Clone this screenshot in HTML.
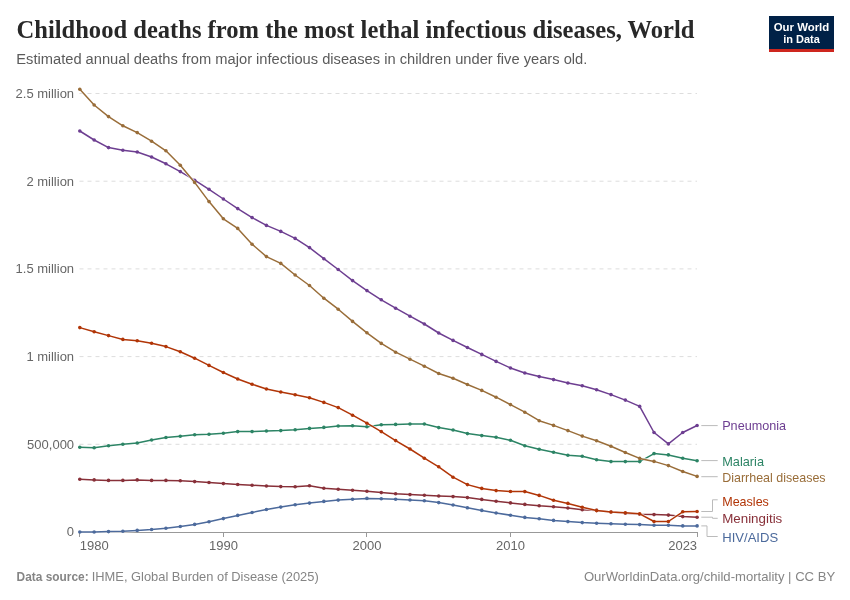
<!DOCTYPE html><html><head><meta charset="utf-8"><style>html,body{margin:0;padding:0;background:#fff;width:850px;height:600px;overflow:hidden}svg{display:block;will-change:transform}text{font-family:"Liberation Sans",sans-serif}</style></head><body>
<svg width="850" height="600" viewBox="0 0 850 600">
<rect width="850" height="600" fill="#fff"/>
<text x="16.5" y="38.4" style="font-family:'Liberation Serif',serif" font-weight="bold" font-size="25.5" fill="#282828" textLength="678" lengthAdjust="spacingAndGlyphs">Childhood deaths from the most lethal infectious diseases, World</text>
<text x="16.3" y="64" font-size="15.5" fill="#5b5b5b" textLength="571" lengthAdjust="spacingAndGlyphs">Estimated annual deaths from major infectious diseases in children under five years old.</text>
<rect x="769" y="16" width="65" height="33" fill="#002147"/><rect x="769" y="49" width="65" height="3" fill="#ce261e"/>
<text x="801.5" y="30.7" text-anchor="middle" font-weight="bold" font-size="11.4" fill="#fff">Our World</text>
<text x="801.5" y="42.6" text-anchor="middle" font-weight="bold" font-size="11" fill="#fff">in Data</text>
<text x="74.1" y="536.4" text-anchor="end" font-size="13" fill="#666">0</text>
<line x1="79.5" y1="444.3" x2="697" y2="444.3" stroke="#dddddd" stroke-width="1" stroke-dasharray="4,4"/>
<text x="74.1" y="448.7" text-anchor="end" font-size="13" fill="#666">500,000</text>
<line x1="79.5" y1="356.6" x2="697" y2="356.6" stroke="#dddddd" stroke-width="1" stroke-dasharray="4,4"/>
<text x="74.1" y="361.0" text-anchor="end" font-size="13" fill="#666">1 million</text>
<line x1="79.5" y1="268.9" x2="697" y2="268.9" stroke="#dddddd" stroke-width="1" stroke-dasharray="4,4"/>
<text x="74.1" y="273.3" text-anchor="end" font-size="13" fill="#666">1.5 million</text>
<line x1="79.5" y1="181.2" x2="697" y2="181.2" stroke="#dddddd" stroke-width="1" stroke-dasharray="4,4"/>
<text x="74.1" y="185.6" text-anchor="end" font-size="13" fill="#666">2 million</text>
<line x1="79.5" y1="93.5" x2="697" y2="93.5" stroke="#dddddd" stroke-width="1" stroke-dasharray="4,4"/>
<text x="74.1" y="97.9" text-anchor="end" font-size="13" fill="#666">2.5 million</text>
<line x1="79.8" y1="532.5" x2="697.1" y2="532.5" stroke="#999" stroke-width="1"/>
<line x1="79.5" y1="532" x2="79.5" y2="537" stroke="#999" stroke-width="1"/>
<text x="79.8" y="550.4" text-anchor="start" font-size="13" fill="#666">1980</text>
<line x1="223.5" y1="532" x2="223.5" y2="537" stroke="#999" stroke-width="1"/>
<text x="223.4" y="550.4" text-anchor="middle" font-size="13" fill="#666">1990</text>
<line x1="366.5" y1="532" x2="366.5" y2="537" stroke="#999" stroke-width="1"/>
<text x="366.9" y="550.4" text-anchor="middle" font-size="13" fill="#666">2000</text>
<line x1="510.5" y1="532" x2="510.5" y2="537" stroke="#999" stroke-width="1"/>
<text x="510.5" y="550.4" text-anchor="middle" font-size="13" fill="#666">2010</text>
<line x1="697.5" y1="532" x2="697.5" y2="537" stroke="#999" stroke-width="1"/>
<text x="697.1" y="550.4" text-anchor="end" font-size="13" fill="#666">2023</text>
<polyline points="79.80,532.00 94.16,532.00 108.51,531.60 122.87,531.20 137.22,530.40 151.58,529.50 165.93,528.20 180.29,526.50 194.65,524.40 209.00,521.80 223.36,518.60 237.71,515.40 252.07,512.50 266.43,509.50 280.78,507.10 295.14,504.80 309.49,503.10 323.85,501.40 338.20,500.10 352.56,499.20 366.92,498.40 381.27,498.80 395.63,499.20 409.98,500.00 424.34,500.80 438.70,502.60 453.05,505.00 467.41,507.80 481.76,510.40 496.12,513.00 510.47,515.20 524.83,517.40 539.19,518.80 553.54,520.40 567.90,521.60 582.25,522.60 596.61,523.20 610.97,523.80 625.32,524.20 639.68,524.60 654.03,525.20 668.39,525.30 682.74,525.90 697.10,525.90" fill="none" stroke="#fff" stroke-opacity="0.7" stroke-width="3" stroke-linejoin="round"/>
<polyline points="79.80,532.00 94.16,532.00 108.51,531.60 122.87,531.20 137.22,530.40 151.58,529.50 165.93,528.20 180.29,526.50 194.65,524.40 209.00,521.80 223.36,518.60 237.71,515.40 252.07,512.50 266.43,509.50 280.78,507.10 295.14,504.80 309.49,503.10 323.85,501.40 338.20,500.10 352.56,499.20 366.92,498.40 381.27,498.80 395.63,499.20 409.98,500.00 424.34,500.80 438.70,502.60 453.05,505.00 467.41,507.80 481.76,510.40 496.12,513.00 510.47,515.20 524.83,517.40 539.19,518.80 553.54,520.40 567.90,521.60 582.25,522.60 596.61,523.20 610.97,523.80 625.32,524.20 639.68,524.60 654.03,525.20 668.39,525.30 682.74,525.90 697.10,525.90" fill="none" stroke="#4c6a9c" stroke-width="1.5" stroke-linejoin="round"/>
<circle cx="79.80" cy="532.00" r="1.8" fill="#4c6a9c"/>
<circle cx="94.16" cy="532.00" r="1.8" fill="#4c6a9c"/>
<circle cx="108.51" cy="531.60" r="1.8" fill="#4c6a9c"/>
<circle cx="122.87" cy="531.20" r="1.8" fill="#4c6a9c"/>
<circle cx="137.22" cy="530.40" r="1.8" fill="#4c6a9c"/>
<circle cx="151.58" cy="529.50" r="1.8" fill="#4c6a9c"/>
<circle cx="165.93" cy="528.20" r="1.8" fill="#4c6a9c"/>
<circle cx="180.29" cy="526.50" r="1.8" fill="#4c6a9c"/>
<circle cx="194.65" cy="524.40" r="1.8" fill="#4c6a9c"/>
<circle cx="209.00" cy="521.80" r="1.8" fill="#4c6a9c"/>
<circle cx="223.36" cy="518.60" r="1.8" fill="#4c6a9c"/>
<circle cx="237.71" cy="515.40" r="1.8" fill="#4c6a9c"/>
<circle cx="252.07" cy="512.50" r="1.8" fill="#4c6a9c"/>
<circle cx="266.43" cy="509.50" r="1.8" fill="#4c6a9c"/>
<circle cx="280.78" cy="507.10" r="1.8" fill="#4c6a9c"/>
<circle cx="295.14" cy="504.80" r="1.8" fill="#4c6a9c"/>
<circle cx="309.49" cy="503.10" r="1.8" fill="#4c6a9c"/>
<circle cx="323.85" cy="501.40" r="1.8" fill="#4c6a9c"/>
<circle cx="338.20" cy="500.10" r="1.8" fill="#4c6a9c"/>
<circle cx="352.56" cy="499.20" r="1.8" fill="#4c6a9c"/>
<circle cx="366.92" cy="498.40" r="1.8" fill="#4c6a9c"/>
<circle cx="381.27" cy="498.80" r="1.8" fill="#4c6a9c"/>
<circle cx="395.63" cy="499.20" r="1.8" fill="#4c6a9c"/>
<circle cx="409.98" cy="500.00" r="1.8" fill="#4c6a9c"/>
<circle cx="424.34" cy="500.80" r="1.8" fill="#4c6a9c"/>
<circle cx="438.70" cy="502.60" r="1.8" fill="#4c6a9c"/>
<circle cx="453.05" cy="505.00" r="1.8" fill="#4c6a9c"/>
<circle cx="467.41" cy="507.80" r="1.8" fill="#4c6a9c"/>
<circle cx="481.76" cy="510.40" r="1.8" fill="#4c6a9c"/>
<circle cx="496.12" cy="513.00" r="1.8" fill="#4c6a9c"/>
<circle cx="510.47" cy="515.20" r="1.8" fill="#4c6a9c"/>
<circle cx="524.83" cy="517.40" r="1.8" fill="#4c6a9c"/>
<circle cx="539.19" cy="518.80" r="1.8" fill="#4c6a9c"/>
<circle cx="553.54" cy="520.40" r="1.8" fill="#4c6a9c"/>
<circle cx="567.90" cy="521.60" r="1.8" fill="#4c6a9c"/>
<circle cx="582.25" cy="522.60" r="1.8" fill="#4c6a9c"/>
<circle cx="596.61" cy="523.20" r="1.8" fill="#4c6a9c"/>
<circle cx="610.97" cy="523.80" r="1.8" fill="#4c6a9c"/>
<circle cx="625.32" cy="524.20" r="1.8" fill="#4c6a9c"/>
<circle cx="639.68" cy="524.60" r="1.8" fill="#4c6a9c"/>
<circle cx="654.03" cy="525.20" r="1.8" fill="#4c6a9c"/>
<circle cx="668.39" cy="525.30" r="1.8" fill="#4c6a9c"/>
<circle cx="682.74" cy="525.90" r="1.8" fill="#4c6a9c"/>
<circle cx="697.10" cy="525.90" r="1.8" fill="#4c6a9c"/>
<polyline points="79.80,479.30 94.16,479.90 108.51,480.40 122.87,480.40 137.22,479.90 151.58,480.40 165.93,480.40 180.29,480.80 194.65,481.60 209.00,482.50 223.36,483.60 237.71,484.50 252.07,485.20 266.43,486.00 280.78,486.60 295.14,486.80 309.49,485.80 323.85,488.30 338.20,489.20 352.56,490.30 366.92,491.30 381.27,492.60 395.63,493.80 409.98,494.60 424.34,495.20 438.70,496.00 453.05,496.60 467.41,497.60 481.76,499.40 496.12,501.20 510.47,502.90 524.83,504.40 539.19,505.80 553.54,506.80 567.90,508.00 582.25,509.80 596.61,510.40 610.97,512.00 625.32,513.20 639.68,514.20 654.03,514.60 668.39,515.10 682.74,516.60 697.10,517.20" fill="none" stroke="#fff" stroke-opacity="0.7" stroke-width="3" stroke-linejoin="round"/>
<polyline points="79.80,479.30 94.16,479.90 108.51,480.40 122.87,480.40 137.22,479.90 151.58,480.40 165.93,480.40 180.29,480.80 194.65,481.60 209.00,482.50 223.36,483.60 237.71,484.50 252.07,485.20 266.43,486.00 280.78,486.60 295.14,486.80 309.49,485.80 323.85,488.30 338.20,489.20 352.56,490.30 366.92,491.30 381.27,492.60 395.63,493.80 409.98,494.60 424.34,495.20 438.70,496.00 453.05,496.60 467.41,497.60 481.76,499.40 496.12,501.20 510.47,502.90 524.83,504.40 539.19,505.80 553.54,506.80 567.90,508.00 582.25,509.80 596.61,510.40 610.97,512.00 625.32,513.20 639.68,514.20 654.03,514.60 668.39,515.10 682.74,516.60 697.10,517.20" fill="none" stroke="#883039" stroke-width="1.5" stroke-linejoin="round"/>
<circle cx="79.80" cy="479.30" r="1.8" fill="#883039"/>
<circle cx="94.16" cy="479.90" r="1.8" fill="#883039"/>
<circle cx="108.51" cy="480.40" r="1.8" fill="#883039"/>
<circle cx="122.87" cy="480.40" r="1.8" fill="#883039"/>
<circle cx="137.22" cy="479.90" r="1.8" fill="#883039"/>
<circle cx="151.58" cy="480.40" r="1.8" fill="#883039"/>
<circle cx="165.93" cy="480.40" r="1.8" fill="#883039"/>
<circle cx="180.29" cy="480.80" r="1.8" fill="#883039"/>
<circle cx="194.65" cy="481.60" r="1.8" fill="#883039"/>
<circle cx="209.00" cy="482.50" r="1.8" fill="#883039"/>
<circle cx="223.36" cy="483.60" r="1.8" fill="#883039"/>
<circle cx="237.71" cy="484.50" r="1.8" fill="#883039"/>
<circle cx="252.07" cy="485.20" r="1.8" fill="#883039"/>
<circle cx="266.43" cy="486.00" r="1.8" fill="#883039"/>
<circle cx="280.78" cy="486.60" r="1.8" fill="#883039"/>
<circle cx="295.14" cy="486.80" r="1.8" fill="#883039"/>
<circle cx="309.49" cy="485.80" r="1.8" fill="#883039"/>
<circle cx="323.85" cy="488.30" r="1.8" fill="#883039"/>
<circle cx="338.20" cy="489.20" r="1.8" fill="#883039"/>
<circle cx="352.56" cy="490.30" r="1.8" fill="#883039"/>
<circle cx="366.92" cy="491.30" r="1.8" fill="#883039"/>
<circle cx="381.27" cy="492.60" r="1.8" fill="#883039"/>
<circle cx="395.63" cy="493.80" r="1.8" fill="#883039"/>
<circle cx="409.98" cy="494.60" r="1.8" fill="#883039"/>
<circle cx="424.34" cy="495.20" r="1.8" fill="#883039"/>
<circle cx="438.70" cy="496.00" r="1.8" fill="#883039"/>
<circle cx="453.05" cy="496.60" r="1.8" fill="#883039"/>
<circle cx="467.41" cy="497.60" r="1.8" fill="#883039"/>
<circle cx="481.76" cy="499.40" r="1.8" fill="#883039"/>
<circle cx="496.12" cy="501.20" r="1.8" fill="#883039"/>
<circle cx="510.47" cy="502.90" r="1.8" fill="#883039"/>
<circle cx="524.83" cy="504.40" r="1.8" fill="#883039"/>
<circle cx="539.19" cy="505.80" r="1.8" fill="#883039"/>
<circle cx="553.54" cy="506.80" r="1.8" fill="#883039"/>
<circle cx="567.90" cy="508.00" r="1.8" fill="#883039"/>
<circle cx="582.25" cy="509.80" r="1.8" fill="#883039"/>
<circle cx="596.61" cy="510.40" r="1.8" fill="#883039"/>
<circle cx="610.97" cy="512.00" r="1.8" fill="#883039"/>
<circle cx="625.32" cy="513.20" r="1.8" fill="#883039"/>
<circle cx="639.68" cy="514.20" r="1.8" fill="#883039"/>
<circle cx="654.03" cy="514.60" r="1.8" fill="#883039"/>
<circle cx="668.39" cy="515.10" r="1.8" fill="#883039"/>
<circle cx="682.74" cy="516.60" r="1.8" fill="#883039"/>
<circle cx="697.10" cy="517.20" r="1.8" fill="#883039"/>
<polyline points="79.80,447.30 94.16,447.70 108.51,445.80 122.87,444.30 137.22,443.00 151.58,440.00 165.93,437.50 180.29,436.20 194.65,434.70 209.00,434.30 223.36,433.20 237.71,431.60 252.07,431.60 266.43,431.00 280.78,430.60 295.14,429.80 309.49,428.40 323.85,427.40 338.20,426.00 352.56,425.80 366.92,426.70 381.27,424.80 395.63,424.40 409.98,424.00 424.34,424.00 438.70,427.60 453.05,430.00 467.41,433.60 481.76,435.60 496.12,437.30 510.47,440.30 524.83,445.80 539.19,449.20 553.54,452.20 567.90,455.20 582.25,456.20 596.61,459.70 610.97,461.60 625.32,461.60 639.68,461.60 654.03,453.60 668.39,454.90 682.74,458.20 697.10,460.70" fill="none" stroke="#fff" stroke-opacity="0.7" stroke-width="3" stroke-linejoin="round"/>
<polyline points="79.80,447.30 94.16,447.70 108.51,445.80 122.87,444.30 137.22,443.00 151.58,440.00 165.93,437.50 180.29,436.20 194.65,434.70 209.00,434.30 223.36,433.20 237.71,431.60 252.07,431.60 266.43,431.00 280.78,430.60 295.14,429.80 309.49,428.40 323.85,427.40 338.20,426.00 352.56,425.80 366.92,426.70 381.27,424.80 395.63,424.40 409.98,424.00 424.34,424.00 438.70,427.60 453.05,430.00 467.41,433.60 481.76,435.60 496.12,437.30 510.47,440.30 524.83,445.80 539.19,449.20 553.54,452.20 567.90,455.20 582.25,456.20 596.61,459.70 610.97,461.60 625.32,461.60 639.68,461.60 654.03,453.60 668.39,454.90 682.74,458.20 697.10,460.70" fill="none" stroke="#2c8465" stroke-width="1.5" stroke-linejoin="round"/>
<circle cx="79.80" cy="447.30" r="1.8" fill="#2c8465"/>
<circle cx="94.16" cy="447.70" r="1.8" fill="#2c8465"/>
<circle cx="108.51" cy="445.80" r="1.8" fill="#2c8465"/>
<circle cx="122.87" cy="444.30" r="1.8" fill="#2c8465"/>
<circle cx="137.22" cy="443.00" r="1.8" fill="#2c8465"/>
<circle cx="151.58" cy="440.00" r="1.8" fill="#2c8465"/>
<circle cx="165.93" cy="437.50" r="1.8" fill="#2c8465"/>
<circle cx="180.29" cy="436.20" r="1.8" fill="#2c8465"/>
<circle cx="194.65" cy="434.70" r="1.8" fill="#2c8465"/>
<circle cx="209.00" cy="434.30" r="1.8" fill="#2c8465"/>
<circle cx="223.36" cy="433.20" r="1.8" fill="#2c8465"/>
<circle cx="237.71" cy="431.60" r="1.8" fill="#2c8465"/>
<circle cx="252.07" cy="431.60" r="1.8" fill="#2c8465"/>
<circle cx="266.43" cy="431.00" r="1.8" fill="#2c8465"/>
<circle cx="280.78" cy="430.60" r="1.8" fill="#2c8465"/>
<circle cx="295.14" cy="429.80" r="1.8" fill="#2c8465"/>
<circle cx="309.49" cy="428.40" r="1.8" fill="#2c8465"/>
<circle cx="323.85" cy="427.40" r="1.8" fill="#2c8465"/>
<circle cx="338.20" cy="426.00" r="1.8" fill="#2c8465"/>
<circle cx="352.56" cy="425.80" r="1.8" fill="#2c8465"/>
<circle cx="366.92" cy="426.70" r="1.8" fill="#2c8465"/>
<circle cx="381.27" cy="424.80" r="1.8" fill="#2c8465"/>
<circle cx="395.63" cy="424.40" r="1.8" fill="#2c8465"/>
<circle cx="409.98" cy="424.00" r="1.8" fill="#2c8465"/>
<circle cx="424.34" cy="424.00" r="1.8" fill="#2c8465"/>
<circle cx="438.70" cy="427.60" r="1.8" fill="#2c8465"/>
<circle cx="453.05" cy="430.00" r="1.8" fill="#2c8465"/>
<circle cx="467.41" cy="433.60" r="1.8" fill="#2c8465"/>
<circle cx="481.76" cy="435.60" r="1.8" fill="#2c8465"/>
<circle cx="496.12" cy="437.30" r="1.8" fill="#2c8465"/>
<circle cx="510.47" cy="440.30" r="1.8" fill="#2c8465"/>
<circle cx="524.83" cy="445.80" r="1.8" fill="#2c8465"/>
<circle cx="539.19" cy="449.20" r="1.8" fill="#2c8465"/>
<circle cx="553.54" cy="452.20" r="1.8" fill="#2c8465"/>
<circle cx="567.90" cy="455.20" r="1.8" fill="#2c8465"/>
<circle cx="582.25" cy="456.20" r="1.8" fill="#2c8465"/>
<circle cx="596.61" cy="459.70" r="1.8" fill="#2c8465"/>
<circle cx="610.97" cy="461.60" r="1.8" fill="#2c8465"/>
<circle cx="625.32" cy="461.60" r="1.8" fill="#2c8465"/>
<circle cx="639.68" cy="461.60" r="1.8" fill="#2c8465"/>
<circle cx="654.03" cy="453.60" r="1.8" fill="#2c8465"/>
<circle cx="668.39" cy="454.90" r="1.8" fill="#2c8465"/>
<circle cx="682.74" cy="458.20" r="1.8" fill="#2c8465"/>
<circle cx="697.10" cy="460.70" r="1.8" fill="#2c8465"/>
<polyline points="79.80,131.00 94.16,140.00 108.51,147.60 122.87,150.20 137.22,152.00 151.58,157.00 165.93,163.80 180.29,171.60 194.65,180.20 209.00,189.30 223.36,199.00 237.71,208.60 252.07,217.60 266.43,225.40 280.78,231.40 295.14,238.40 309.49,247.60 323.85,258.70 338.20,269.50 352.56,280.60 366.92,290.60 381.27,299.80 395.63,308.20 409.98,316.20 424.34,324.00 438.70,333.00 453.05,340.40 467.41,347.50 481.76,354.40 496.12,361.40 510.47,368.00 524.83,373.00 539.19,376.60 553.54,379.60 567.90,383.00 582.25,385.70 596.61,389.80 610.97,394.60 625.32,400.10 639.68,406.40 654.03,432.50 668.39,443.90 682.74,432.50 697.10,425.50" fill="none" stroke="#fff" stroke-opacity="0.7" stroke-width="3" stroke-linejoin="round"/>
<polyline points="79.80,131.00 94.16,140.00 108.51,147.60 122.87,150.20 137.22,152.00 151.58,157.00 165.93,163.80 180.29,171.60 194.65,180.20 209.00,189.30 223.36,199.00 237.71,208.60 252.07,217.60 266.43,225.40 280.78,231.40 295.14,238.40 309.49,247.60 323.85,258.70 338.20,269.50 352.56,280.60 366.92,290.60 381.27,299.80 395.63,308.20 409.98,316.20 424.34,324.00 438.70,333.00 453.05,340.40 467.41,347.50 481.76,354.40 496.12,361.40 510.47,368.00 524.83,373.00 539.19,376.60 553.54,379.60 567.90,383.00 582.25,385.70 596.61,389.80 610.97,394.60 625.32,400.10 639.68,406.40 654.03,432.50 668.39,443.90 682.74,432.50 697.10,425.50" fill="none" stroke="#6d3e91" stroke-width="1.5" stroke-linejoin="round"/>
<circle cx="79.80" cy="131.00" r="1.8" fill="#6d3e91"/>
<circle cx="94.16" cy="140.00" r="1.8" fill="#6d3e91"/>
<circle cx="108.51" cy="147.60" r="1.8" fill="#6d3e91"/>
<circle cx="122.87" cy="150.20" r="1.8" fill="#6d3e91"/>
<circle cx="137.22" cy="152.00" r="1.8" fill="#6d3e91"/>
<circle cx="151.58" cy="157.00" r="1.8" fill="#6d3e91"/>
<circle cx="165.93" cy="163.80" r="1.8" fill="#6d3e91"/>
<circle cx="180.29" cy="171.60" r="1.8" fill="#6d3e91"/>
<circle cx="194.65" cy="180.20" r="1.8" fill="#6d3e91"/>
<circle cx="209.00" cy="189.30" r="1.8" fill="#6d3e91"/>
<circle cx="223.36" cy="199.00" r="1.8" fill="#6d3e91"/>
<circle cx="237.71" cy="208.60" r="1.8" fill="#6d3e91"/>
<circle cx="252.07" cy="217.60" r="1.8" fill="#6d3e91"/>
<circle cx="266.43" cy="225.40" r="1.8" fill="#6d3e91"/>
<circle cx="280.78" cy="231.40" r="1.8" fill="#6d3e91"/>
<circle cx="295.14" cy="238.40" r="1.8" fill="#6d3e91"/>
<circle cx="309.49" cy="247.60" r="1.8" fill="#6d3e91"/>
<circle cx="323.85" cy="258.70" r="1.8" fill="#6d3e91"/>
<circle cx="338.20" cy="269.50" r="1.8" fill="#6d3e91"/>
<circle cx="352.56" cy="280.60" r="1.8" fill="#6d3e91"/>
<circle cx="366.92" cy="290.60" r="1.8" fill="#6d3e91"/>
<circle cx="381.27" cy="299.80" r="1.8" fill="#6d3e91"/>
<circle cx="395.63" cy="308.20" r="1.8" fill="#6d3e91"/>
<circle cx="409.98" cy="316.20" r="1.8" fill="#6d3e91"/>
<circle cx="424.34" cy="324.00" r="1.8" fill="#6d3e91"/>
<circle cx="438.70" cy="333.00" r="1.8" fill="#6d3e91"/>
<circle cx="453.05" cy="340.40" r="1.8" fill="#6d3e91"/>
<circle cx="467.41" cy="347.50" r="1.8" fill="#6d3e91"/>
<circle cx="481.76" cy="354.40" r="1.8" fill="#6d3e91"/>
<circle cx="496.12" cy="361.40" r="1.8" fill="#6d3e91"/>
<circle cx="510.47" cy="368.00" r="1.8" fill="#6d3e91"/>
<circle cx="524.83" cy="373.00" r="1.8" fill="#6d3e91"/>
<circle cx="539.19" cy="376.60" r="1.8" fill="#6d3e91"/>
<circle cx="553.54" cy="379.60" r="1.8" fill="#6d3e91"/>
<circle cx="567.90" cy="383.00" r="1.8" fill="#6d3e91"/>
<circle cx="582.25" cy="385.70" r="1.8" fill="#6d3e91"/>
<circle cx="596.61" cy="389.80" r="1.8" fill="#6d3e91"/>
<circle cx="610.97" cy="394.60" r="1.8" fill="#6d3e91"/>
<circle cx="625.32" cy="400.10" r="1.8" fill="#6d3e91"/>
<circle cx="639.68" cy="406.40" r="1.8" fill="#6d3e91"/>
<circle cx="654.03" cy="432.50" r="1.8" fill="#6d3e91"/>
<circle cx="668.39" cy="443.90" r="1.8" fill="#6d3e91"/>
<circle cx="682.74" cy="432.50" r="1.8" fill="#6d3e91"/>
<circle cx="697.10" cy="425.50" r="1.8" fill="#6d3e91"/>
<polyline points="79.80,327.60 94.16,331.80 108.51,335.60 122.87,339.40 137.22,340.80 151.58,343.20 165.93,346.60 180.29,351.80 194.65,358.20 209.00,365.40 223.36,372.50 237.71,379.00 252.07,384.20 266.43,389.00 280.78,392.00 295.14,394.80 309.49,397.80 323.85,402.40 338.20,407.60 352.56,415.20 366.92,423.20 381.27,431.60 395.63,440.60 409.98,449.00 424.34,458.20 438.70,466.80 453.05,477.20 467.41,484.60 481.76,488.40 496.12,490.60 510.47,491.50 524.83,491.60 539.19,495.40 553.54,500.20 567.90,503.40 582.25,507.20 596.61,510.60 610.97,512.00 625.32,512.80 639.68,513.80 654.03,521.50 668.39,521.50 682.74,511.80 697.10,511.50" fill="none" stroke="#fff" stroke-opacity="0.7" stroke-width="3" stroke-linejoin="round"/>
<polyline points="79.80,327.60 94.16,331.80 108.51,335.60 122.87,339.40 137.22,340.80 151.58,343.20 165.93,346.60 180.29,351.80 194.65,358.20 209.00,365.40 223.36,372.50 237.71,379.00 252.07,384.20 266.43,389.00 280.78,392.00 295.14,394.80 309.49,397.80 323.85,402.40 338.20,407.60 352.56,415.20 366.92,423.20 381.27,431.60 395.63,440.60 409.98,449.00 424.34,458.20 438.70,466.80 453.05,477.20 467.41,484.60 481.76,488.40 496.12,490.60 510.47,491.50 524.83,491.60 539.19,495.40 553.54,500.20 567.90,503.40 582.25,507.20 596.61,510.60 610.97,512.00 625.32,512.80 639.68,513.80 654.03,521.50 668.39,521.50 682.74,511.80 697.10,511.50" fill="none" stroke="#b13507" stroke-width="1.5" stroke-linejoin="round"/>
<circle cx="79.80" cy="327.60" r="1.8" fill="#b13507"/>
<circle cx="94.16" cy="331.80" r="1.8" fill="#b13507"/>
<circle cx="108.51" cy="335.60" r="1.8" fill="#b13507"/>
<circle cx="122.87" cy="339.40" r="1.8" fill="#b13507"/>
<circle cx="137.22" cy="340.80" r="1.8" fill="#b13507"/>
<circle cx="151.58" cy="343.20" r="1.8" fill="#b13507"/>
<circle cx="165.93" cy="346.60" r="1.8" fill="#b13507"/>
<circle cx="180.29" cy="351.80" r="1.8" fill="#b13507"/>
<circle cx="194.65" cy="358.20" r="1.8" fill="#b13507"/>
<circle cx="209.00" cy="365.40" r="1.8" fill="#b13507"/>
<circle cx="223.36" cy="372.50" r="1.8" fill="#b13507"/>
<circle cx="237.71" cy="379.00" r="1.8" fill="#b13507"/>
<circle cx="252.07" cy="384.20" r="1.8" fill="#b13507"/>
<circle cx="266.43" cy="389.00" r="1.8" fill="#b13507"/>
<circle cx="280.78" cy="392.00" r="1.8" fill="#b13507"/>
<circle cx="295.14" cy="394.80" r="1.8" fill="#b13507"/>
<circle cx="309.49" cy="397.80" r="1.8" fill="#b13507"/>
<circle cx="323.85" cy="402.40" r="1.8" fill="#b13507"/>
<circle cx="338.20" cy="407.60" r="1.8" fill="#b13507"/>
<circle cx="352.56" cy="415.20" r="1.8" fill="#b13507"/>
<circle cx="366.92" cy="423.20" r="1.8" fill="#b13507"/>
<circle cx="381.27" cy="431.60" r="1.8" fill="#b13507"/>
<circle cx="395.63" cy="440.60" r="1.8" fill="#b13507"/>
<circle cx="409.98" cy="449.00" r="1.8" fill="#b13507"/>
<circle cx="424.34" cy="458.20" r="1.8" fill="#b13507"/>
<circle cx="438.70" cy="466.80" r="1.8" fill="#b13507"/>
<circle cx="453.05" cy="477.20" r="1.8" fill="#b13507"/>
<circle cx="467.41" cy="484.60" r="1.8" fill="#b13507"/>
<circle cx="481.76" cy="488.40" r="1.8" fill="#b13507"/>
<circle cx="496.12" cy="490.60" r="1.8" fill="#b13507"/>
<circle cx="510.47" cy="491.50" r="1.8" fill="#b13507"/>
<circle cx="524.83" cy="491.60" r="1.8" fill="#b13507"/>
<circle cx="539.19" cy="495.40" r="1.8" fill="#b13507"/>
<circle cx="553.54" cy="500.20" r="1.8" fill="#b13507"/>
<circle cx="567.90" cy="503.40" r="1.8" fill="#b13507"/>
<circle cx="582.25" cy="507.20" r="1.8" fill="#b13507"/>
<circle cx="596.61" cy="510.60" r="1.8" fill="#b13507"/>
<circle cx="610.97" cy="512.00" r="1.8" fill="#b13507"/>
<circle cx="625.32" cy="512.80" r="1.8" fill="#b13507"/>
<circle cx="639.68" cy="513.80" r="1.8" fill="#b13507"/>
<circle cx="654.03" cy="521.50" r="1.8" fill="#b13507"/>
<circle cx="668.39" cy="521.50" r="1.8" fill="#b13507"/>
<circle cx="682.74" cy="511.80" r="1.8" fill="#b13507"/>
<circle cx="697.10" cy="511.50" r="1.8" fill="#b13507"/>
<polyline points="79.80,89.30 94.16,105.00 108.51,116.60 122.87,125.80 137.22,132.60 151.58,141.20 165.93,150.80 180.29,165.20 194.65,182.40 209.00,201.60 223.36,218.80 237.71,228.40 252.07,244.20 266.43,256.60 280.78,263.40 295.14,275.00 309.49,285.50 323.85,298.20 338.20,309.20 352.56,321.40 366.92,332.80 381.27,343.40 395.63,352.20 409.98,359.20 424.34,366.20 438.70,373.50 453.05,378.20 467.41,384.50 481.76,390.40 496.12,397.20 510.47,404.60 524.83,412.20 539.19,420.70 553.54,425.40 567.90,430.60 582.25,436.10 596.61,440.80 610.97,446.20 625.32,452.50 639.68,458.40 654.03,461.40 668.39,465.60 682.74,471.50 697.10,476.40" fill="none" stroke="#fff" stroke-opacity="0.7" stroke-width="3" stroke-linejoin="round"/>
<polyline points="79.80,89.30 94.16,105.00 108.51,116.60 122.87,125.80 137.22,132.60 151.58,141.20 165.93,150.80 180.29,165.20 194.65,182.40 209.00,201.60 223.36,218.80 237.71,228.40 252.07,244.20 266.43,256.60 280.78,263.40 295.14,275.00 309.49,285.50 323.85,298.20 338.20,309.20 352.56,321.40 366.92,332.80 381.27,343.40 395.63,352.20 409.98,359.20 424.34,366.20 438.70,373.50 453.05,378.20 467.41,384.50 481.76,390.40 496.12,397.20 510.47,404.60 524.83,412.20 539.19,420.70 553.54,425.40 567.90,430.60 582.25,436.10 596.61,440.80 610.97,446.20 625.32,452.50 639.68,458.40 654.03,461.40 668.39,465.60 682.74,471.50 697.10,476.40" fill="none" stroke="#996d39" stroke-width="1.5" stroke-linejoin="round"/>
<circle cx="79.80" cy="89.30" r="1.8" fill="#996d39"/>
<circle cx="94.16" cy="105.00" r="1.8" fill="#996d39"/>
<circle cx="108.51" cy="116.60" r="1.8" fill="#996d39"/>
<circle cx="122.87" cy="125.80" r="1.8" fill="#996d39"/>
<circle cx="137.22" cy="132.60" r="1.8" fill="#996d39"/>
<circle cx="151.58" cy="141.20" r="1.8" fill="#996d39"/>
<circle cx="165.93" cy="150.80" r="1.8" fill="#996d39"/>
<circle cx="180.29" cy="165.20" r="1.8" fill="#996d39"/>
<circle cx="194.65" cy="182.40" r="1.8" fill="#996d39"/>
<circle cx="209.00" cy="201.60" r="1.8" fill="#996d39"/>
<circle cx="223.36" cy="218.80" r="1.8" fill="#996d39"/>
<circle cx="237.71" cy="228.40" r="1.8" fill="#996d39"/>
<circle cx="252.07" cy="244.20" r="1.8" fill="#996d39"/>
<circle cx="266.43" cy="256.60" r="1.8" fill="#996d39"/>
<circle cx="280.78" cy="263.40" r="1.8" fill="#996d39"/>
<circle cx="295.14" cy="275.00" r="1.8" fill="#996d39"/>
<circle cx="309.49" cy="285.50" r="1.8" fill="#996d39"/>
<circle cx="323.85" cy="298.20" r="1.8" fill="#996d39"/>
<circle cx="338.20" cy="309.20" r="1.8" fill="#996d39"/>
<circle cx="352.56" cy="321.40" r="1.8" fill="#996d39"/>
<circle cx="366.92" cy="332.80" r="1.8" fill="#996d39"/>
<circle cx="381.27" cy="343.40" r="1.8" fill="#996d39"/>
<circle cx="395.63" cy="352.20" r="1.8" fill="#996d39"/>
<circle cx="409.98" cy="359.20" r="1.8" fill="#996d39"/>
<circle cx="424.34" cy="366.20" r="1.8" fill="#996d39"/>
<circle cx="438.70" cy="373.50" r="1.8" fill="#996d39"/>
<circle cx="453.05" cy="378.20" r="1.8" fill="#996d39"/>
<circle cx="467.41" cy="384.50" r="1.8" fill="#996d39"/>
<circle cx="481.76" cy="390.40" r="1.8" fill="#996d39"/>
<circle cx="496.12" cy="397.20" r="1.8" fill="#996d39"/>
<circle cx="510.47" cy="404.60" r="1.8" fill="#996d39"/>
<circle cx="524.83" cy="412.20" r="1.8" fill="#996d39"/>
<circle cx="539.19" cy="420.70" r="1.8" fill="#996d39"/>
<circle cx="553.54" cy="425.40" r="1.8" fill="#996d39"/>
<circle cx="567.90" cy="430.60" r="1.8" fill="#996d39"/>
<circle cx="582.25" cy="436.10" r="1.8" fill="#996d39"/>
<circle cx="596.61" cy="440.80" r="1.8" fill="#996d39"/>
<circle cx="610.97" cy="446.20" r="1.8" fill="#996d39"/>
<circle cx="625.32" cy="452.50" r="1.8" fill="#996d39"/>
<circle cx="639.68" cy="458.40" r="1.8" fill="#996d39"/>
<circle cx="654.03" cy="461.40" r="1.8" fill="#996d39"/>
<circle cx="668.39" cy="465.60" r="1.8" fill="#996d39"/>
<circle cx="682.74" cy="471.50" r="1.8" fill="#996d39"/>
<circle cx="697.10" cy="476.40" r="1.8" fill="#996d39"/>
<path d="M701.3 425.6 L717.7 425.6" fill="none" stroke="#bbb" stroke-width="1"/>
<path d="M701.3 460.6 L717.7 460.6" fill="none" stroke="#bbb" stroke-width="1"/>
<path d="M701.3 476.7 L717.7 476.7" fill="none" stroke="#bbb" stroke-width="1"/>
<path d="M701.3 511.5 H712.5 V499.8 H717.7" fill="none" stroke="#bbb" stroke-width="1"/>
<path d="M701.3 517.2 H712.5 V518.3 H717.7" fill="none" stroke="#bbb" stroke-width="1"/>
<path d="M701.3 525.9 H707 V536.5 H717.7" fill="none" stroke="#bbb" stroke-width="1"/>
<text x="722.2" y="430.3" font-size="12.4" fill="#6d3e91" textLength="63.9" lengthAdjust="spacingAndGlyphs">Pneumonia</text>
<text x="722.2" y="465.5" font-size="12.4" fill="#2c8465" textLength="41.8" lengthAdjust="spacingAndGlyphs">Malaria</text>
<text x="722.2" y="481.5" font-size="12.4" fill="#996d39" textLength="103.4" lengthAdjust="spacingAndGlyphs">Diarrheal diseases</text>
<text x="722.2" y="505.6" font-size="12.4" fill="#b13507" textLength="46.7" lengthAdjust="spacingAndGlyphs">Measles</text>
<text x="722.2" y="523.2" font-size="12.4" fill="#883039" textLength="60.1" lengthAdjust="spacingAndGlyphs">Meningitis</text>
<text x="722.2" y="541.5" font-size="12.4" fill="#4c6a9c" textLength="56" lengthAdjust="spacingAndGlyphs">HIV/AIDS</text>
<text x="16.6" y="580.6" font-size="12.7" font-weight="bold" fill="#858585" textLength="72" lengthAdjust="spacingAndGlyphs">Data source:</text>
<text x="91.7" y="580.6" font-size="12.7" fill="#858585" textLength="227" lengthAdjust="spacingAndGlyphs">IHME, Global Burden of Disease (2025)</text>
<text x="835.2" y="580.6" text-anchor="end" font-size="13.1" fill="#858585">OurWorldinData.org/child-mortality | CC BY</text>
</svg></body></html>
